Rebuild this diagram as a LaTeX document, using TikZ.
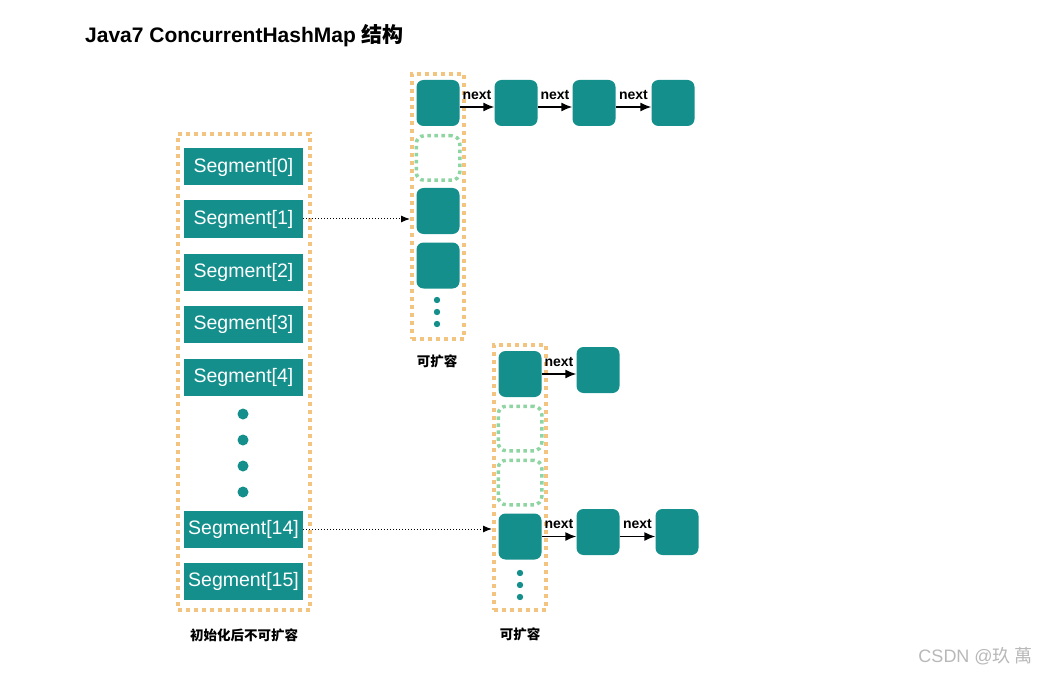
\documentclass[tikz,border=0pt]{standalone}
\usepackage{fontspec}
\setmainfont{Liberation Sans}
\newfontfamily\cjk{Noto Sans CJK SC}
\usetikzlibrary{arrows.meta}
\definecolor{cell}{HTML}{148F8C}
\definecolor{ring}{HTML}{F2C47F}
\definecolor{spare}{HTML}{8ED5A2}
\definecolor{mark}{HTML}{B8B8B8}

\begin{document}
\begin{tikzpicture}[x=1pt,y=-1pt,>={Latex[length=9pt,width=7pt]},
  seg/.style={fill=cell,text=white,minimum width=119pt,minimum height=37pt,
    inner sep=0pt,font=\fontsize{19.5}{20}\selectfont},
  bucket/.style={fill=cell,rounded corners=7pt,minimum width=43pt,
    minimum height=46pt,inner sep=0pt},
  sparebox/.style={draw=spare,line width=3.5pt,dash pattern=on 3.5pt off 3.5pt,
    rounded corners=8pt,minimum width=43.5pt,minimum height=44.5pt,inner sep=0pt},
  slots/.style={draw=ring,line width=4pt,dash pattern=on 4pt off 4pt,inner sep=0pt},
  chain/.style={-{Latex[length=11pt,width=9pt]},line width=1.4pt},
  link/.style={->,dotted,line width=1pt},
  nextlab/.style={above=6pt,inner sep=1pt,font=\bfseries\fontsize{14}{15}\selectfont},
  lab/.style={font=\cjk\bfseries\fontsize{13.5}{14}\selectfont}]
  \useasboundingbox (0,0) rectangle (1037,674);

  \node[anchor=west,inner sep=0pt,font=\bfseries\fontsize{21}{24}\selectfont]
    (title) at (85,36) {Java7 ConcurrentHashMap {\cjk 结构}};

  % segments
  \node[slots,minimum width=132pt,minimum height=476pt] (segs) at (244,372) {};
  \foreach \i/\y in {0/167,1/219,2/272,3/324,4/377,14/529,15/581}
    \node[seg] (s\i) at (243.5,\y) {Segment[\i]};
  \foreach \y in {414,440,466,492}
    \fill[cell] (243,\y) circle (5.5pt);
  \node[lab] (fixed) at (244,635) {初始化后不可扩容};

  % table of segment 1
  \node[slots,minimum width=52pt,minimum height=265pt] (tabA) at (438,206.5) {};
  \node[bucket] (a0) at (438,103) {};
  \node[sparebox] (a1) at (438,158) {};
  \node[bucket] (a2) at (438,211) {};
  \node[bucket] (a3) at (438,265.5) {};
  \foreach \y in {300,312,324}
    \fill[cell] (437,\y) circle (3.2pt);
  \foreach \n/\x in {1/516,2/594,3/673}
    \node[bucket] (a0n\n) at (\x,103) {};
  \foreach \p/\q in {a0/a0n1,a0n1/a0n2,a0n2/a0n3}
    \draw[chain] ([yshift=-4pt]\p.east) -- node[nextlab] {next} ([yshift=-4pt]\q.west);
  \node[lab] (growA) at (437,361) {可扩容};
  \draw[link] (s1.east) -- (s1.east -| tabA.west);

  % table of segment 14
  \node[slots,minimum width=52pt,minimum height=265pt] (tabB) at (520,477.5) {};
  \node[bucket] (b0) at (520,374) {};
  \node[sparebox] (b1) at (520,428.5) {};
  \node[sparebox] (b2) at (520,482.5) {};
  \node[bucket] (b3) at (520,536.5) {};
  \foreach \y in {573,585,597}
    \fill[cell] (520,\y) circle (3.2pt);
  \node[bucket] (b0n1) at (598,370) {};
  \node[bucket] (b3n1) at (598,532) {};
  \node[bucket] (b3n2) at (677,532) {};
  \draw[chain] (b0.east) -- node[nextlab] {next} (b0.east -| b0n1.west);
  \draw[chain] (b3.east) -- node[nextlab] {next} (b3.east -| b3n1.west);
  \draw[chain] (b3n1.east |- b3.east) -- node[nextlab] {next} (b3.east -| b3n2.west);
  \node[lab] (growB) at (520,634) {可扩容};
  \draw[link] (s14.east) -- (s14.east -| tabB.west);

  \node[anchor=east,inner sep=0pt,text=mark,font=\fontsize{18}{20}\selectfont]
    (wm) at (1033,656) {CSDN @{\cjk 玖 萬}};
\end{tikzpicture}
\end{document}
